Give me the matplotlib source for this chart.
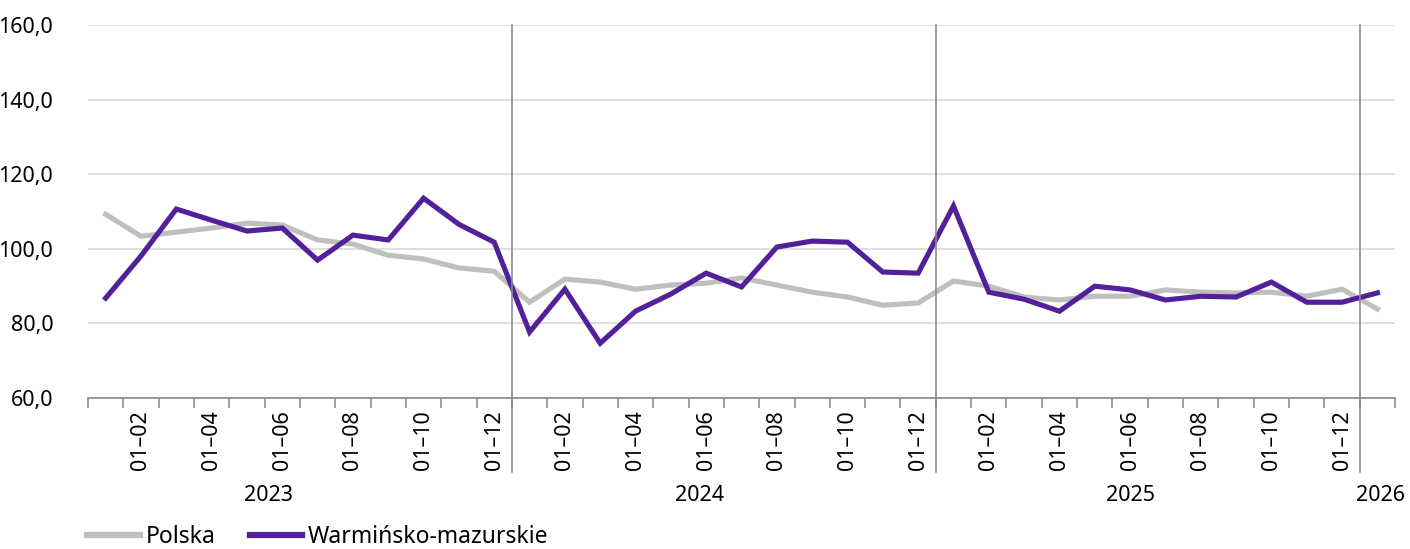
import numpy as np
import matplotlib
matplotlib.use('Agg')
import matplotlib.pyplot as plt
from matplotlib.lines import Line2D

plt.rcParams['font.family'] = ['Noto Sans', 'DejaVu Sans']

# okresy narastajace 01-01 .. 01-12 dla kazdego roku
years = ['2023', '2024', '2025', '2026']
months_per_year = [12, 12, 12, 1]
period_labels = []
for y, n in zip(years, months_per_year):
    for m in range(1, n + 1):
        period_labels.append('01\u2013%02d' % m)

polska = [109.3, 103.4, 104.5, 105.6, 106.9, 106.4, 102.4, 101.3, 98.3, 97.3, 94.9, 94.0,
          85.7, 91.9, 91.1, 89.2, 90.3, 90.8, 92.2, 90.3, 88.4, 87.1, 84.9, 85.5,
          91.4, 90.0, 87.1, 86.3, 87.3, 87.3, 89.0, 88.4, 88.2, 88.4, 87.3, 89.2,
          83.9]
warm_maz = [86.8, 98.1, 110.7, 107.7, 104.8, 105.6, 97.0, 103.7, 102.4, 113.6, 106.6, 101.8,
            77.7, 89.2, 74.7, 83.3, 87.9, 93.5, 89.8, 100.5, 102.1, 101.8, 93.8, 93.5,
            111.5, 88.4, 86.5, 83.3, 90.0, 89.0, 86.3, 87.3, 87.1, 91.1, 85.7, 85.7,
            88.2]

gray = '#BFBFBF'
purple = '#51209A'
axis_gray = '#8C8C8C'
fs = 15.5

n = len(polska)
x = np.arange(n)

fig = plt.figure(figsize=(14.1, 5.49), dpi=100)
ax = fig.add_axes([0.0624, 0.275, 0.9270, 0.679])

ax.plot(x, polska, color=gray, lw=3.7, solid_joinstyle='miter', zorder=3)
ax.plot(x, warm_maz, color=purple, lw=3.7, solid_joinstyle='miter', zorder=4)

ax.set_xlim(-0.5, n - 0.5)
ax.set_ylim(60, 160)
ax.set_yticks(np.arange(60, 161, 20))
ax.yaxis.set_major_formatter(matplotlib.ticker.FuncFormatter(lambda v, p: ('%.1f' % v).replace('.', ',')))
ax.tick_params(axis='y', length=0, pad=25, labelsize=fs)
ax.grid(axis='y', color='#D9D9D9', lw=1.2, zorder=0)

for s in ['top', 'right', 'left']:
    ax.spines[s].set_visible(False)
ax.spines['bottom'].set_color(axis_gray)
ax.spines['bottom'].set_linewidth(1.2)

# etykiety co drugi miesiac
lab_idx = [i for i, l in enumerate(period_labels) if int(l[-2:]) % 2 == 0]
ax.set_xticks(lab_idx)
ax.set_xticklabels([period_labels[i] for i in lab_idx], rotation=90, fontsize=fs)
ax.tick_params(axis='x', which='major', length=0, pad=9)
ax.set_xticks(np.arange(-0.5, n, 1), minor=True)
ax.tick_params(axis='x', which='minor', length=7, color=axis_gray, width=1.2)

# separatory lat
start = 0
bounds = []
for cnt in months_per_year:
    start += cnt
    bounds.append(start - 0.5)
for b in bounds[:-1]:
    ax.add_line(Line2D([b, b], [1.0, -0.198], transform=ax.get_xaxis_transform(),
                       color=axis_gray, lw=1.2, clip_on=False, zorder=5))

year_pos = [4.6, 16.8, 29.0, 36.1]
for yp, yr in zip(year_pos, years):
    ax.text(yp, -0.262, yr, transform=ax.get_xaxis_transform(), ha='center', va='center',
            fontsize=fs)

handles = [Line2D([], [], color=gray, lw=4.5), Line2D([], [], color=purple, lw=4.5)]
fig.legend(handles, ['Polska', 'Warmi\u0144sko-mazurskie'], loc='center left',
           bbox_to_anchor=(87 / 1410, 12 / 549), ncol=2, frameon=False, fontsize=16.5,
           handlelength=2.3, handletextpad=0.25, columnspacing=1.5,
           borderpad=0, borderaxespad=0)

fig.savefig('out.png', dpi=100)
